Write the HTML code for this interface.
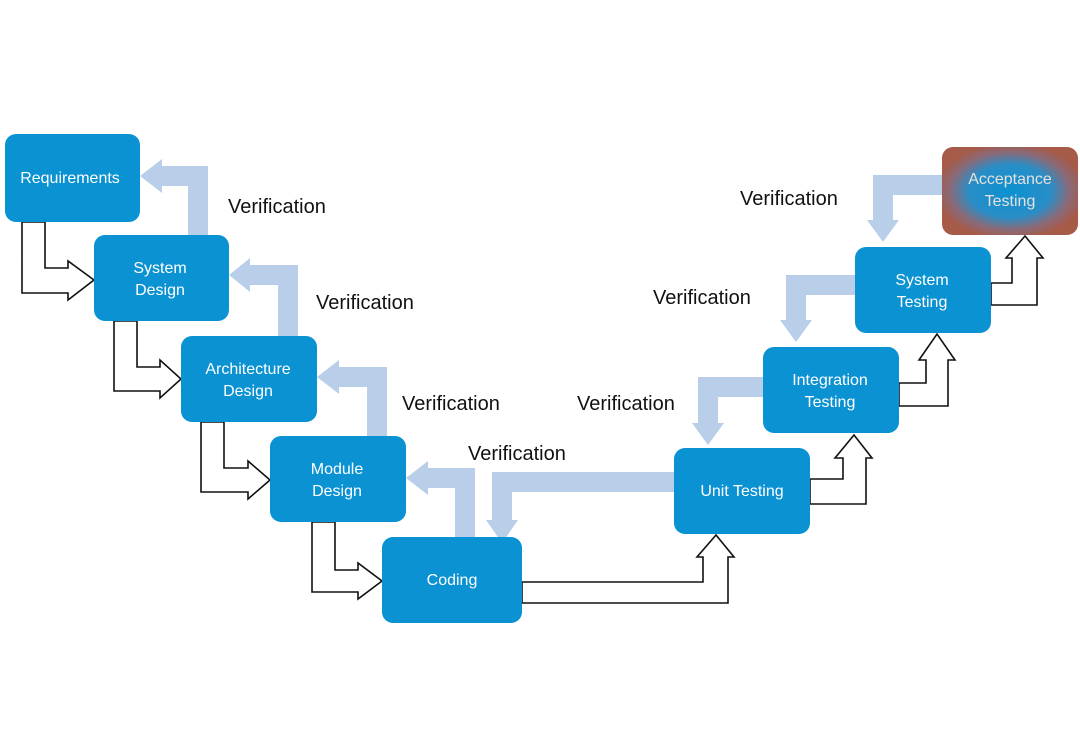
<!DOCTYPE html>
<html><head><meta charset="utf-8"><style>
html,body{margin:0;padding:0;background:#fff;}
svg{display:block;}
.bx{fill:#0a92d2;}
.t{font-family:"Liberation Sans",sans-serif;font-size:16px;fill:#fff;text-anchor:middle;}
.v{font-family:"Liberation Sans",sans-serif;font-size:20px;fill:#111;}
.h{fill:#fff;stroke:#111;stroke-width:1.6;stroke-linejoin:miter;}
.va{fill:#b9cfe9;}
</style></head><body>
<svg width="1080" height="740" viewBox="0 0 1080 740" xmlns="http://www.w3.org/2000/svg">
<defs>
<radialGradient id="acc" cx="50%" cy="50%" r="55%">
<stop offset="0%" stop-color="#0a92d2"/>
<stop offset="55%" stop-color="#2a8dc6"/>
<stop offset="80%" stop-color="#8a6a78"/>
<stop offset="100%" stop-color="#a65a48"/>
</radialGradient>
</defs>
<!-- hollow down-right arrows -->
<polygon class="h" points="22,222 45,222 45,268 68,268 68,261 94,280 68,300 68,293 22,293"/>
<polygon class="h" points="114,321 137,321 137,367 160,367 160,360 181,379 160,398 160,391 114,391"/>
<polygon class="h" points="201,422 224,422 224,468 248,468 248,461 270,480 248,499 248,492 201,492"/>
<polygon class="h" points="312,522 335,522 335,570 358,570 358,563 382,581 358,599 358,592 312,592"/>
<!-- hollow up arrows -->
<polygon class="h" points="522,582 703,582 703,557 697,557 716,535 734,557 728,557 728,603 522,603"/>
<polygon class="h" points="810,479 843,479 843,458 835,458 854,435 872,458 866,458 866,504 810,504"/>
<polygon class="h" points="899,383 926,383 926,360 919,360 937,334 955,360 948,360 948,406 899,406"/>
<polygon class="h" points="991,283 1012,283 1012,258 1006,258 1025,236 1043,258 1037,258 1037,305 991,305"/>
<!-- verification arrows -->
<polygon class="va" points="188,235 208,235 208,166 162,166 162,159 140,176 162,193 162,186 188,186"/>
<polygon class="va" points="278,336 298,336 298,265 250,265 250,258 229,275 250,292 250,285 278,285"/>
<polygon class="va" points="367,436 387,436 387,367 339,367 339,360 317,377 339,394 339,387 367,387"/>
<polygon class="va" points="455,537 475,537 475,468 428,468 428,461 406,478 428,495 428,488 455,488"/>
<polygon class="va" points="674,472 492,472 492,520 486,520 502,543 518,520 512,520 512,492 674,492"/>
<polygon class="va" points="763,377 698,377 698,423 692,423 708,445 724,423 718,423 718,397 763,397"/>
<polygon class="va" points="855,275 786,275 786,320 780,320 796,342 812,320 806,320 806,295 855,295"/>
<polygon class="va" points="942,175 873,175 873,220 867,220 883,242 899,220 893,220 893,195 942,195"/>
<!-- boxes -->
<rect class="bx" x="5" y="134" width="135" height="88" rx="11"/>
<rect class="bx" x="94" y="235" width="135" height="86" rx="11"/>
<rect class="bx" x="181" y="336" width="136" height="86" rx="11"/>
<rect class="bx" x="270" y="436" width="136" height="86" rx="11"/>
<rect class="bx" x="382" y="537" width="140" height="86" rx="11"/>
<rect class="bx" x="674" y="448" width="136" height="86" rx="11"/>
<rect class="bx" x="763" y="347" width="136" height="86" rx="11"/>
<rect class="bx" x="855" y="247" width="136" height="86" rx="11"/>
<rect x="942" y="147" width="136" height="88" rx="11" fill="url(#acc)"/>
<!-- box labels -->
<text class="t" x="70" y="183">Requirements</text>
<text class="t" x="160" y="273">System</text><text class="t" x="160" y="295">Design</text>
<text class="t" x="248" y="374">Architecture</text><text class="t" x="248" y="396">Design</text>
<text class="t" x="337" y="474">Module</text><text class="t" x="337" y="496">Design</text>
<text class="t" x="452" y="585">Coding</text>
<text class="t" x="742" y="496">Unit Testing</text>
<text class="t" x="830" y="385">Integration</text><text class="t" x="830" y="407">Testing</text>
<text class="t" x="922" y="285">System</text><text class="t" x="922" y="307">Testing</text>
<text class="t" x="1010" y="184" style="fill:#e8e0dc">Acceptance</text><text class="t" x="1010" y="206" style="fill:#e8e0dc">Testing</text>
<!-- verification labels -->
<text class="v" x="228" y="213">Verification</text>
<text class="v" x="316" y="309">Verification</text>
<text class="v" x="402" y="410">Verification</text>
<text class="v" x="468" y="460">Verification</text>
<text class="v" x="740" y="205">Verification</text>
<text class="v" x="653" y="304">Verification</text>
<text class="v" x="577" y="410">Verification</text>
</svg>
</body></html>
